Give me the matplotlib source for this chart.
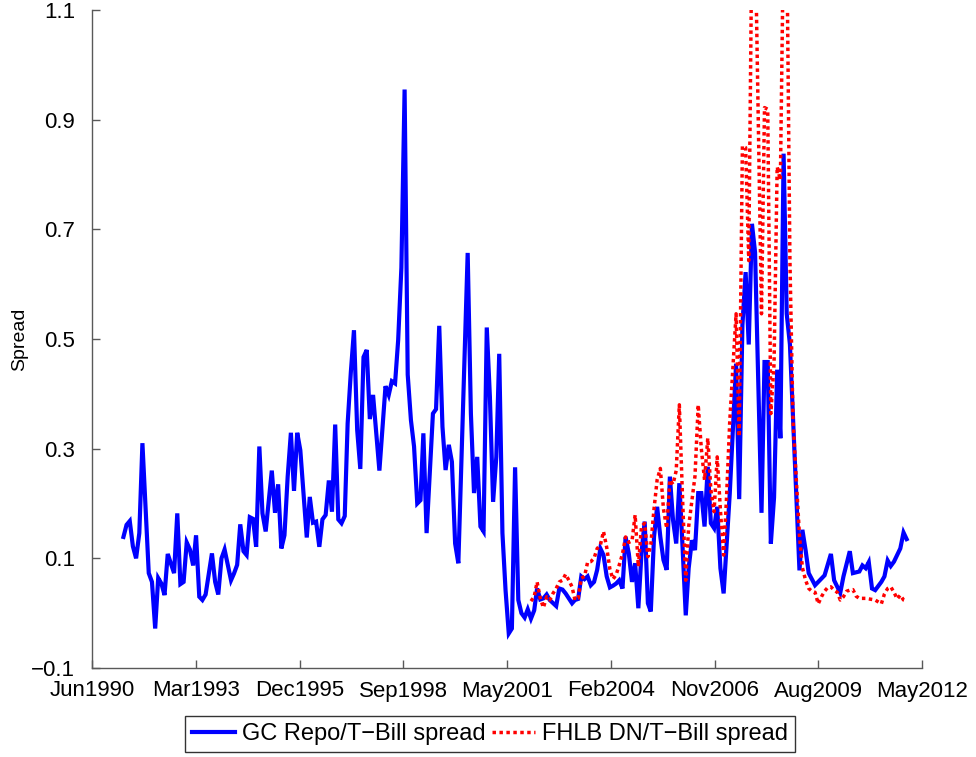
import numpy as np
import pandas as pd
import matplotlib
matplotlib.use("Agg")
import matplotlib.pyplot as plt
import matplotlib.dates as mdates

# GC Repo / T-Bill spread (monthly, turning points)
gc_dates = [
    "1991-04", "1991-05", "1991-06", "1991-07", "1991-08", "1991-09", "1991-10", "1991-11",
    "1991-12", "1992-01", "1992-02", "1992-03", "1992-04", "1992-05", "1992-06", "1992-07",
    "1992-08", "1992-09", "1992-10", "1992-11", "1992-12", "1993-01", "1993-02", "1993-03",
    "1993-04", "1993-05", "1993-06", "1993-08", "1993-09", "1993-10", "1993-11", "1993-12",
    "1994-02", "1994-03", "1994-04", "1994-05", "1994-06", "1994-07", "1994-08", "1994-09",
    "1994-10", "1994-11", "1994-12", "1995-01", "1995-03", "1995-04", "1995-05", "1995-06",
    "1995-07", "1995-08", "1995-09", "1995-10", "1995-11", "1995-12", "1996-02", "1996-03",
    "1996-04", "1996-05", "1996-06", "1996-07", "1996-08", "1996-09", "1996-10", "1996-11",
    "1996-12", "1997-01", "1997-02", "1997-03", "1997-04", "1997-05", "1997-06", "1997-07",
    "1997-08", "1997-09", "1997-10", "1997-11", "1998-01", "1998-03", "1998-04", "1998-05",
    "1998-06", "1998-07", "1998-08", "1998-09", "1998-10", "1998-11", "1998-12", "1999-01",
    "1999-02", "1999-03", "1999-04", "1999-06", "1999-07", "1999-08", "1999-09", "1999-10",
    "1999-11", "1999-12", "2000-01", "2000-02", "2000-05", "2000-06", "2000-07", "2000-08",
    "2000-09", "2000-10", "2000-11", "2000-12", "2001-01", "2001-02", "2001-03", "2001-04",
    "2001-05", "2001-06", "2001-07", "2001-08", "2001-09", "2001-10", "2001-11", "2001-12",
    "2002-01", "2002-02", "2002-03", "2002-04", "2002-05", "2002-06", "2002-07", "2002-09",
    "2002-10", "2002-11", "2002-12", "2003-02", "2003-03", "2003-04", "2003-05", "2003-06",
    "2003-07", "2003-08", "2003-09", "2003-10", "2003-11", "2003-12", "2004-01", "2004-02",
    "2004-03", "2004-04", "2004-05", "2004-06", "2004-07", "2004-08", "2004-09", "2004-10",
    "2004-11", "2004-12", "2005-01", "2005-02", "2005-03", "2005-04", "2005-05", "2005-06",
    "2005-07", "2005-08", "2005-09", "2005-10", "2005-11", "2005-12", "2006-01", "2006-02",
    "2006-03", "2006-04", "2006-05", "2006-06", "2006-07", "2006-08", "2006-09", "2006-10",
    "2006-11", "2006-12", "2007-01", "2007-02", "2007-04", "2007-06", "2007-07", "2007-08",
    "2007-09", "2007-10", "2007-11", "2007-12", "2008-02", "2008-03", "2008-04", "2008-05",
    "2008-06", "2008-07", "2008-08", "2008-09", "2008-10", "2008-11", "2009-02", "2009-03",
    "2009-04", "2009-05", "2009-07", "2009-10", "2009-12", "2010-01", "2010-03", "2010-04",
    "2010-06", "2010-07", "2010-09", "2010-10", "2010-11", "2010-12", "2011-01", "2011-02",
    "2011-04", "2011-05", "2011-06", "2011-07", "2011-08", "2011-10", "2011-11", "2011-12",
]
gc_spread = [
    0.139, 0.161, 0.168, 0.122, 0.100, 0.146, 0.310, 0.188,
    0.073, 0.057, -0.028, 0.064, 0.054, 0.033, 0.108, 0.091,
    0.073, 0.182, 0.053, 0.057, 0.129, 0.116, 0.087, 0.142,
    0.030, 0.024, 0.034, 0.109, 0.057, 0.034, 0.100, 0.116,
    0.060, 0.072, 0.088, 0.162, 0.113, 0.106, 0.175, 0.172,
    0.121, 0.304, 0.182, 0.149, 0.260, 0.183, 0.235, 0.118,
    0.142, 0.249, 0.329, 0.223, 0.329, 0.297, 0.138, 0.212,
    0.165, 0.167, 0.121, 0.171, 0.179, 0.242, 0.185, 0.344,
    0.171, 0.164, 0.177, 0.346, 0.440, 0.516, 0.334, 0.263,
    0.467, 0.480, 0.354, 0.398, 0.260, 0.414, 0.398, 0.423,
    0.419, 0.498, 0.630, 0.955, 0.435, 0.352, 0.304, 0.200,
    0.206, 0.328, 0.146, 0.364, 0.372, 0.524, 0.340, 0.261,
    0.307, 0.276, 0.127, 0.091, 0.657, 0.364, 0.219, 0.285,
    0.158, 0.149, 0.521, 0.395, 0.203, 0.285, 0.473, 0.146,
    0.042, -0.037, -0.028, 0.266, 0.024, 0.000, -0.008, 0.007,
    -0.010, 0.005, 0.045, 0.025, 0.027, 0.034, 0.024, 0.013,
    0.045, 0.043, 0.036, 0.018, 0.024, 0.026, 0.067, 0.062,
    0.067, 0.051, 0.057, 0.079, 0.118, 0.106, 0.067, 0.047,
    0.050, 0.054, 0.060, 0.045, 0.139, 0.109, 0.057, 0.091,
    0.009, 0.109, 0.167, 0.018, 0.003, 0.139, 0.194, 0.139,
    0.097, 0.079, 0.249, 0.170, 0.127, 0.237, 0.121, -0.004,
    0.082, 0.133, 0.115, 0.219, 0.219, 0.158, 0.267, 0.164,
    0.155, 0.194, 0.082, 0.036, 0.218, 0.455, 0.208, 0.525,
    0.622, 0.490, 0.710, 0.658, 0.183, 0.458, 0.458, 0.127,
    0.211, 0.444, 0.319, 0.838, 0.546, 0.490, 0.078, 0.152,
    0.115, 0.073, 0.051, 0.069, 0.108, 0.060, 0.037, 0.067,
    0.113, 0.073, 0.076, 0.087, 0.082, 0.093, 0.045, 0.042,
    0.057, 0.067, 0.096, 0.086, 0.094, 0.118, 0.147, 0.135,
]

# FHLB DN / T-Bill spread (values above 1.1 run off the top of the axes)
fhlb_dates = [
    "2002-01", "2002-02", "2002-03", "2002-04", "2002-05", "2002-06", "2002-07", "2002-08",
    "2002-09", "2002-10", "2002-11", "2002-12", "2003-01", "2003-02", "2003-03", "2003-04",
    "2003-05", "2003-06", "2003-07", "2003-08", "2003-09", "2003-10", "2003-11", "2003-12",
    "2004-01", "2004-02", "2004-03", "2004-04", "2004-05", "2004-06", "2004-07", "2004-08",
    "2004-09", "2004-10", "2004-11", "2004-12", "2005-01", "2005-02", "2005-03", "2005-04",
    "2005-05", "2005-06", "2005-07", "2005-08", "2005-09", "2005-10", "2005-11", "2005-12",
    "2006-01", "2006-02", "2006-03", "2006-04", "2006-05", "2006-06", "2006-07", "2006-08",
    "2006-09", "2006-10", "2006-11", "2006-12", "2007-01", "2007-02", "2007-03", "2007-04",
    "2007-06", "2007-07", "2007-08", "2007-09", "2007-10", "2007-11", "2007-12", "2008-02",
    "2008-03", "2008-04", "2008-05", "2008-06", "2008-07", "2008-08", "2008-09", "2008-10",
    "2008-11", "2008-12", "2009-02", "2009-03", "2009-04", "2009-05", "2009-06", "2009-07",
    "2009-08", "2009-09", "2009-10", "2009-11", "2009-12", "2010-01", "2010-02", "2010-03",
    "2010-04", "2010-05", "2010-06", "2010-07", "2010-08", "2010-09", "2010-11", "2011-02",
    "2011-04", "2011-05", "2011-06", "2011-07", "2011-08", "2011-09", "2011-10", "2011-11",
    "2011-12",
]
fhlb_spread = [
    0.022, 0.030, 0.057, 0.027, 0.010, 0.030, 0.024, 0.036,
    0.045, 0.057, 0.060, 0.071, 0.060, 0.048, 0.024, 0.027,
    0.064, 0.067, 0.093, 0.094, 0.100, 0.118, 0.124, 0.149,
    0.120, 0.080, 0.062, 0.070, 0.088, 0.108, 0.139, 0.129,
    0.132, 0.179, 0.085, 0.158, 0.164, 0.103, 0.125, 0.190,
    0.243, 0.264, 0.190, 0.155, 0.243, 0.235, 0.260, 0.380,
    0.210, 0.060, 0.158, 0.205, 0.250, 0.380, 0.300, 0.243,
    0.319, 0.225, 0.185, 0.285, 0.188, 0.106, 0.211, 0.350,
    0.546, 0.322, 0.852, 0.849, 0.643, 1.250, 1.250, 0.546,
    0.922, 0.919, 0.364, 0.455, 0.814, 0.790, 1.250, 1.250,
    0.643, 0.350, 0.141, 0.083, 0.060, 0.045, 0.040, 0.038,
    0.017, 0.030, 0.040, 0.047, 0.048, 0.042, 0.038, 0.024,
    0.030, 0.040, 0.042, 0.043, 0.031, 0.027, 0.027, 0.024,
    0.017, 0.035, 0.045, 0.048, 0.038, 0.026, 0.033, 0.024,
    0.022,
]

legend_labels = ["GC Repo/T\u2212Bill spread", "FHLB DN/T\u2212Bill spread"]
y_ticks = [-0.1, 0.1, 0.3, 0.5, 0.7, 0.9, 1.1]

plt.rcParams['font.family'] = ['Liberation Sans', 'DejaVu Sans']

gc_x = pd.to_datetime(gc_dates) + pd.Timedelta(days=14)
fhlb_x = pd.to_datetime(fhlb_dates) + pd.Timedelta(days=14)

fig = plt.figure(figsize=(9.76, 7.57), dpi=100)
ax = fig.add_axes([92 / 976, 1 - 668 / 757, 830 / 976, 658 / 757])

h1, = ax.plot(gc_x, gc_spread, color=(0, 0, 1), lw=3.0, solid_joinstyle='miter')
h2, = ax.plot(fhlb_x, fhlb_spread, color=(1, 0, 0), lw=2.5, linestyle=(0, (1, 1.0)),
              dash_capstyle='butt')

# x ticks every 1000 days, like the original date axis
tick_dates = np.datetime64('1990-06-16') + np.arange(9) * np.timedelta64(1000, 'D')
ax.set_xticks(tick_dates)
ax.xaxis.set_major_formatter(mdates.DateFormatter('%b%Y'))
ax.set_xlim(tick_dates[0], tick_dates[-1])

ax.set_ylim(-0.1, 1.1)
ax.set_yticks(y_ticks)
ax.set_yticklabels(["\u22120.1" if v < 0 else f"{v:.1f}" for v in y_ticks])
ax.set_ylabel("Spread", fontsize=14)
ax.yaxis.set_label_coords(-0.077, 0.5)

for side in ['top', 'right']:
    ax.spines[side].set_visible(False)
for side in ['left', 'bottom']:
    ax.spines[side].set_color('0.35')
    ax.spines[side].set_linewidth(1.0)
ax.tick_params(direction='in', length=6, width=1.0, color='0.35', labelsize=16)
ax.tick_params(axis='x', pad=9)
ax.tick_params(axis='y', pad=12)

leg = fig.legend([h1, h2], legend_labels, ncol=2, loc='center',
                 bbox_to_anchor=(0.502, 0.0304), fontsize=17, frameon=True,
                 fancybox=False, edgecolor='black', handlelength=1.8,
                 handletextpad=0.3, columnspacing=0.3, borderpad=0.3,
                 borderaxespad=0.0)
leg.get_frame().set_linewidth(1.0)

fig.savefig("out.png", dpi=100)
